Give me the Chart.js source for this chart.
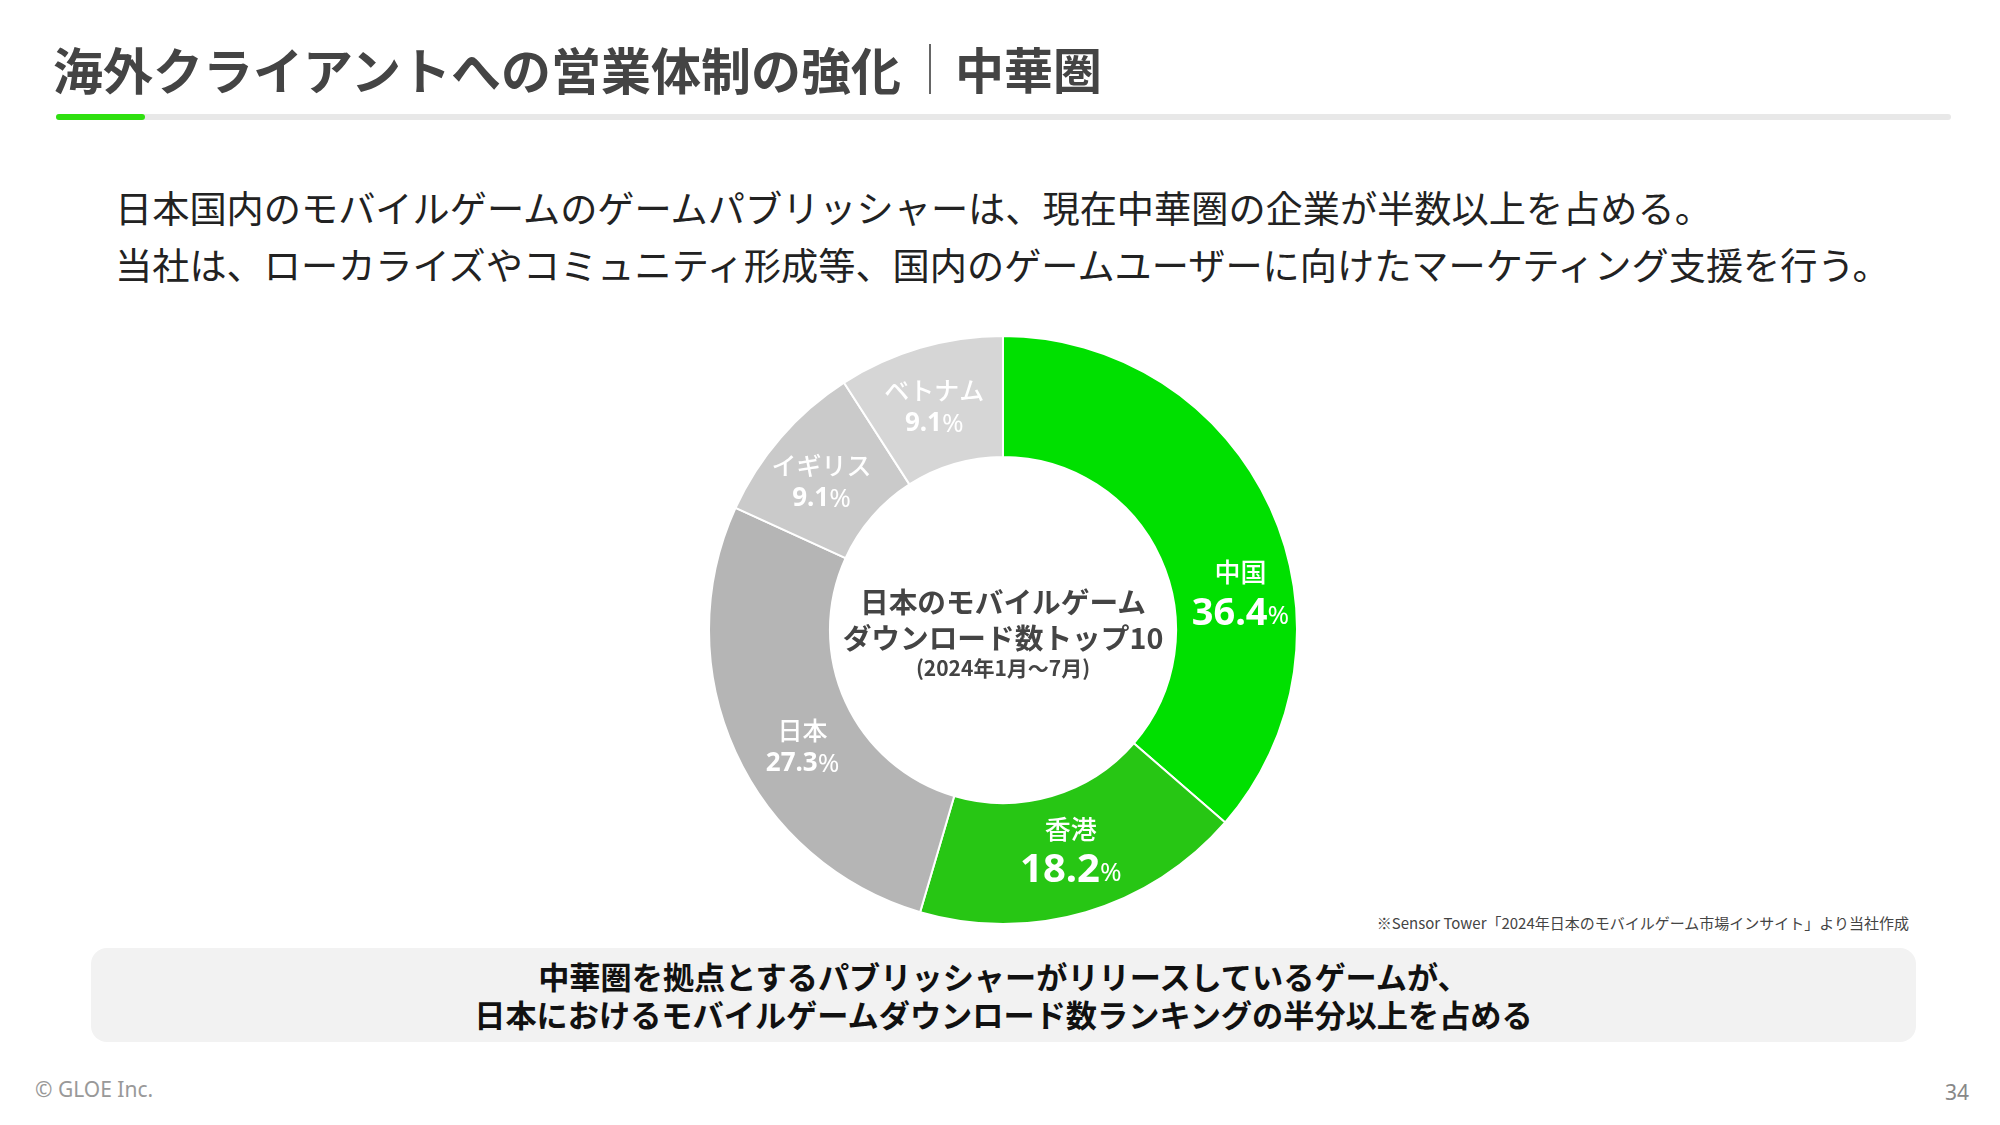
<!DOCTYPE html>
<html lang="ja">
<head>
<meta charset="utf-8">
<title>中華圏</title>
<script src="https://cdn.jsdelivr.net/npm/chart.js@4"></script>
<style>
  html, body { margin: 0; background: #fff; }
  body { position: relative; width: 2000px; height: 1125px; overflow: hidden; font-family: "Noto Sans CJK JP", "Noto Sans", sans-serif; }
  .t { position: absolute; white-space: nowrap; line-height: 1; }
  #title { left: 53px; top: 43px; font-size: 50px; font-weight: 700; color: #444; }
  #titleSub { left: 955px; top: 43px; font-size: 49px; font-weight: 700; color: #444; }
  #titleBar { position: absolute; left: 929px; top: 44px; width: 2px; height: 50px; background: #666; }
  #rule { position: absolute; left: 56px; top: 114px; width: 1895px; height: 6px; background: #e8e8e8; border-radius: 3px; }
  #ruleAccent { position: absolute; left: 56px; top: 114px; width: 89px; height: 6px; background: #2fe010; border-radius: 3px; }
  .body { left: 115px; font-size: 37.2px; color: #222; }
  #chartBox { position: absolute; left: 703px; top: 330px; width: 600px; height: 600px; }
  .center { left: 703px; width: 600px; text-align: center; font-weight: 700; color: #444; }
  #source { right: 91px; top: 915px; font-size: 15px; color: #444; }
  #note { position: absolute; left: 91px; top: 948px; width: 1825px; height: 94px; background: #f2f2f2; border-radius: 16px; }
  .noteLine { left: 91px; width: 1825px; text-align: center; font-size: 31.2px; font-weight: 700; color: #111; }
  #copy { left: 35px; top: 1079px; font-size: 21px; color: #999; font-family: "Noto Sans", sans-serif; }
  #page { right: 31px; top: 1082px; font-size: 21px; color: #888; font-family: "Noto Sans", sans-serif; }
</style>
</head>
<body>
<div class="t" id="title">海外クライアントへの営業体制の強化</div>
<div id="titleBar"></div>
<div class="t" id="titleSub">中華圏</div>
<div id="rule"></div>
<div id="ruleAccent"></div>

<div class="t body" style="top:189px">日本国内のモバイルゲームのゲームパブリッシャーは、現在中華圏の企業が半数以上を占める。</div>
<div class="t body" style="top:246px">当社は、ローカライズやコミュニティ形成等、国内のゲームユーザーに向けたマーケティング支援を行う。</div>

<div id="chartBox"><canvas id="chart"></canvas></div>

<div class="t center" style="top:587px;font-size:28.7px">日本のモバイルゲーム</div>
<div class="t center" style="top:623px;font-size:28.7px">ダウンロード数トップ10</div>
<div class="t center" style="top:657px;font-size:21px">(2024年1月～7月)</div>

<div class="t" id="source">※Sensor Tower「2024年日本のモバイルゲーム市場インサイト」より当社作成</div>
<div id="note"></div>
<div class="t noteLine" style="top:960px">中華圏を拠点とするパブリッシャーがリリースしているゲームが、</div>
<div class="t noteLine" style="top:998px">日本におけるモバイルゲームダウンロード数ランキングの半分以上を占める</div>
<div class="t" id="copy">© GLOE Inc.</div>
<div class="t" id="page">34</div>

<script>
const countries = ['中国', '香港', '日本', 'イギリス', 'ベトナム'];
const shares = [36.4, 18.2, 27.3, 9.1, 9.1];
const sliceColors = ['#00e000', '#27c614', '#b5b5b5', '#cacaca', '#d6d6d6'];

// the slide places its labels by hand, so each one is nudged off the arc centre
const labelNudgeX = [25, 2, 12, -5, -3];
const labelNudgeY = [62, -2, 22, 7, 3];
const labelBig = [true, true, false, false, false];

const FONT = '"Noto Sans", "Noto Sans CJK JP", sans-serif';

const sliceLabels = {
  id: 'sliceLabels',
  afterDatasetsDraw(chart) {
    const ctx = chart.ctx;
    chart.getDatasetMeta(0).data.forEach((arc, i) => {
      const p = arc.getCenterPoint();
      const x = p.x + labelNudgeX[i];
      const y = p.y + labelNudgeY[i];
      const big = labelBig[i];
      const numSize = i === 0 ? 38 : big ? 40 : 26;
      const pctSize = big ? 26 : 26;
      const gap = big ? 20 : 16;
      const num = shares[i].toFixed(1);

      ctx.save();
      ctx.fillStyle = '#fff';
      ctx.textBaseline = 'middle';

      ctx.font = '500 ' + (big ? 26 : 25) + 'px ' + FONT;
      ctx.textAlign = 'center';
      ctx.fillText(countries[i], x, y - gap);

      ctx.font = '700 ' + numSize + 'px ' + FONT;
      const numW = ctx.measureText(num).width;
      ctx.font = '400 ' + pctSize + 'px ' + FONT;
      const pctW = ctx.measureText('%').width;
      const left = x - (numW + pctW) / 2;

      ctx.textAlign = 'left';
      ctx.font = '700 ' + numSize + 'px ' + FONT;
      ctx.fillText(num, left, y + gap - 1);
      ctx.font = '400 ' + pctSize + 'px ' + FONT;
      ctx.fillText('%', left + numW, y + gap + (big ? 2 : 0));
      ctx.restore();
    });
  }
};

new Chart(document.getElementById('chart'), {
  type: 'doughnut',
  data: {
    labels: countries,
    datasets: [{
      data: shares,
      backgroundColor: sliceColors,
      borderColor: '#fff',
      borderWidth: 2
    }]
  },
  options: {
    responsive: true,
    maintainAspectRatio: false,
    animation: false,
    devicePixelRatio: 1,
    radius: 294,
    cutout: 176,
    plugins: {
      legend: { display: false },
      tooltip: { enabled: false }
    }
  },
  plugins: [sliceLabels]
});
</script>
</body>
</html>
